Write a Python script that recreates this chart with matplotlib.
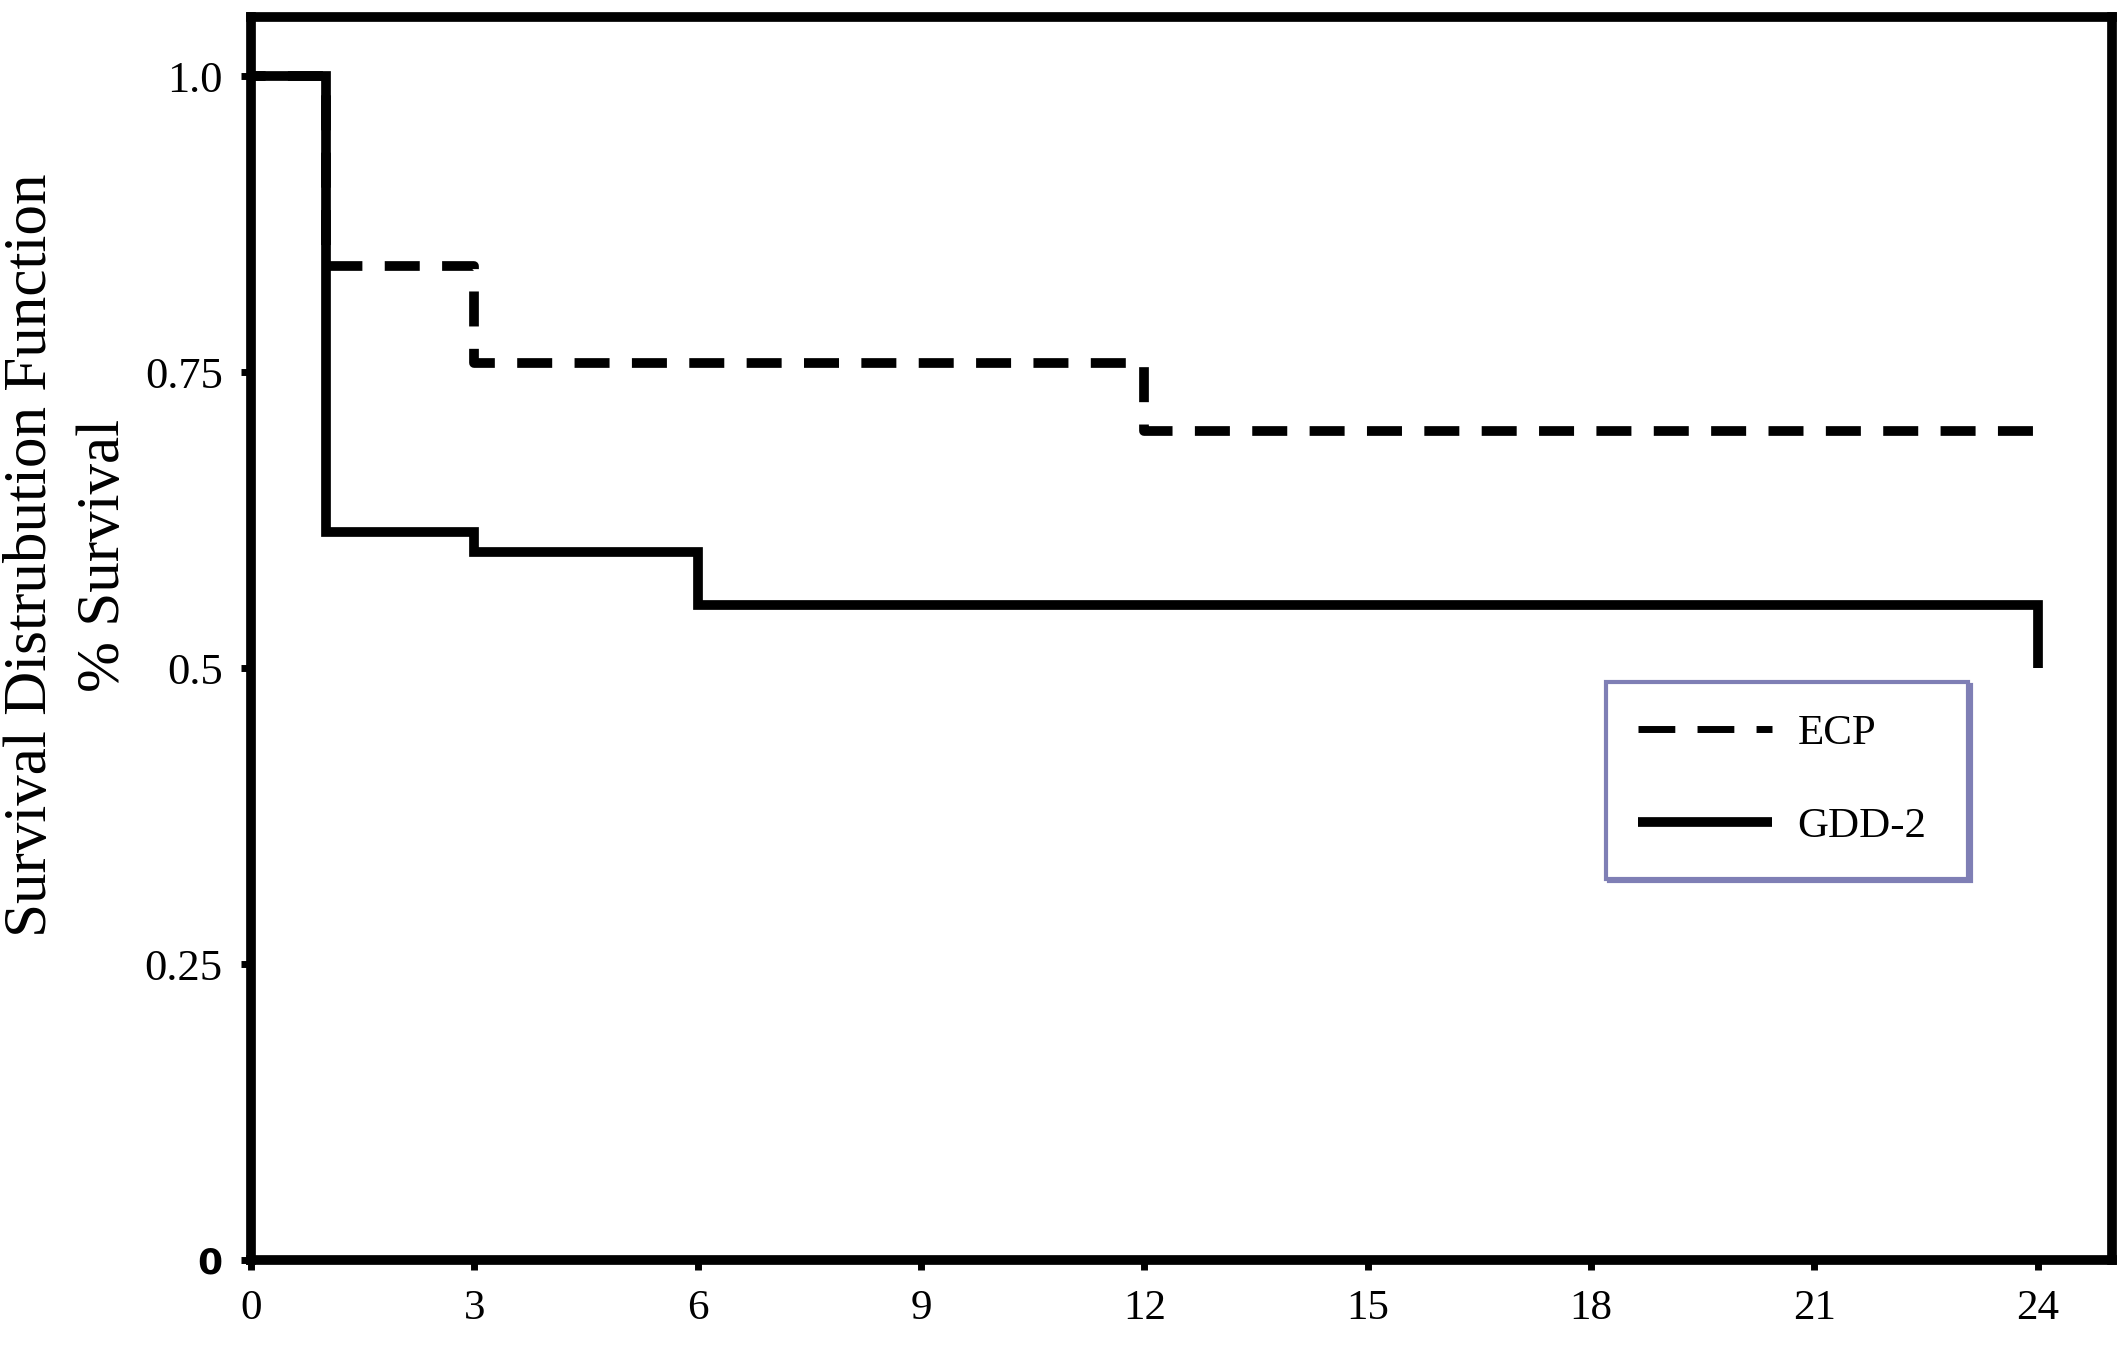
import matplotlib
matplotlib.use("Agg")
import matplotlib.pyplot as plt
from matplotlib.lines import Line2D

# Kaplan-Meier style step data (months vs survival fraction)
ecp_t = [0, 1, 3, 12, 24]
ecp_s = [1.0, 0.84, 0.758, 0.70, 0.70]

gdd_t = [0, 1, 3, 6, 24]
gdd_s = [1.0, 0.615, 0.598, 0.553, 0.5]

x_ticks = [0, 3, 6, 9, 12, 15, 18, 21, 24]
y_ticks = [0, 0.25, 0.5, 0.75, 1.0]
y_labels = ["0", "0.25", "0.5", "0.75", "1.0"]

serif = "Liberation Serif"
plt.rcParams["font.family"] = [serif, "DejaVu Serif"]

fig = plt.figure(figsize=(21.28, 13.45), dpi=100)
ax = fig.add_axes([0.118, 0.0632, 0.8745, 0.9242])

ax.step(ecp_t, ecp_s, where="post", color="black", lw=7,
        linestyle=(2.1, (3.6, 2.3)), dash_capstyle="butt",
        solid_joinstyle="miter")
ax.step(gdd_t, gdd_s, where="post", color="black", lw=7,
        solid_capstyle="butt", solid_joinstyle="miter")

ax.set_xlim(0, 25)
ax.set_ylim(0, 1.05)

for sp in ax.spines.values():
    sp.set_linewidth(7)
    sp.set_capstyle("projecting")

ax.set_xticks(x_ticks)
ax.set_xticklabels([str(v) for v in x_ticks])
ax.set_yticks(y_ticks)
ax.set_yticklabels(y_labels)
ax.tick_params(axis="both", direction="out", length=7.5, width=5, color="black")
ax.tick_params(axis="x", labelsize=31, pad=14)
ax.tick_params(axis="y", labelsize=32, pad=13)

# the zero label on the y axis looks bold/sans in the original
zero_lbl = ax.get_yticklabels()[0]
zero_lbl.set_fontfamily("DejaVu Sans")
zero_lbl.set_fontweight("bold")
zero_lbl.set_fontsize(26)

# y label, two lines
fig.text(68 / 2128, 1 - 555 / 1345,
         "Survival Distrubution Function\n% Survival",
         rotation=90, ha="center", va="center", multialignment="center",
         fontsize=44, linespacing=1.42)

# legend
handles = [
    Line2D([], [], color="black", lw=5, dashes=(5.3, 3.2), dash_capstyle="butt"),
    Line2D([], [], color="black", lw=7, solid_capstyle="butt"),
]
leg = ax.legend(handles, ["ECP", "GDD-2"], loc="upper left",
                bbox_to_anchor=(0.728, 0.365, 0.1945, 0.1), mode="expand",
                borderaxespad=0, fontsize=31, handlelength=3.1,
                handletextpad=0.6, borderpad=0.75, labelspacing=1.25,
                fancybox=False, frameon=True,
                shadow={"color": "#7f7fb5", "alpha": 1})
frame = leg.get_frame()
frame.set_edgecolor("#7f7fb5")
frame.set_linewidth(3)
frame.set_facecolor("white")
frame.set_alpha(1)

fig.savefig("out.png", dpi=100, facecolor="white")
